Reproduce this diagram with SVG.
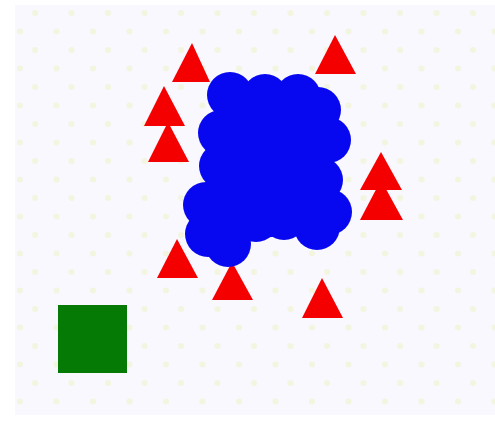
<svg xmlns="http://www.w3.org/2000/svg" width="495" height="425" viewBox="0 0 495 425">
<defs>
<pattern id="dots" patternUnits="userSpaceOnUse" x="20" y="13" width="36.5" height="37">
<circle cx="15" cy="0" r="3" fill="#eef2c4" opacity="0.55"/>
<circle cx="0" cy="18.5" r="3" fill="#eef2c4" opacity="0.55"/>
<circle cx="36.5" cy="18.5" r="3" fill="#eef2c4" opacity="0.55"/>
<circle cx="15" cy="37" r="3" fill="#eef2c4" opacity="0.55"/>
</pattern>
<style>
.tri{fill:#f50000}
.blob circle,.blob polygon{fill:#0808f0}
</style>
</defs>
<rect width="495" height="425" fill="#ffffff"/>
<rect x="15" y="5" width="480" height="410" fill="#f8f8fe"/>
<rect x="15" y="5" width="480" height="410" fill="url(#dots)"/>
<g id="triangles">
<polygon class="tri" points="192,43 210,82 172,82"/>
<polygon class="tri" points="335,35 356,74 315,74"/>
<polygon class="tri" points="164,86 185,126 144,126"/>
<polygon class="tri" points="168,122 189,162 148,162"/>
<polygon class="tri" points="381,152 402,190 360,190"/>
<polygon class="tri" points="381,180 403,220 360,220"/>
<polygon class="tri" points="177,239 198,278 157,278"/>
<polygon class="tri" points="232,262 253,300 212,300"/>
<polygon class="tri" points="322,278 343,318 302,318"/>
</g>
<g id="blob" class="blob">
<polygon points="228,85 320,95 335,140 330,220 300,235 230,240 200,225 205,190 215,130"/>
<circle cx="230" cy="95" r="23"/>
<circle cx="265" cy="97" r="23"/>
<circle cx="298" cy="97" r="23"/>
<circle cx="318" cy="110" r="23"/>
<circle cx="328" cy="140" r="23"/>
<circle cx="221" cy="133" r="23"/>
<circle cx="250" cy="125" r="23"/>
<circle cx="290" cy="125" r="23"/>
<circle cx="222" cy="166" r="23"/>
<circle cx="260" cy="150" r="23"/>
<circle cx="300" cy="150" r="23"/>
<circle cx="260" cy="182" r="23"/>
<circle cx="300" cy="182" r="23"/>
<circle cx="320" cy="180" r="23"/>
<circle cx="240" cy="195" r="23"/>
<circle cx="206" cy="205" r="23"/>
<circle cx="208" cy="234" r="23"/>
<circle cx="228" cy="244" r="23"/>
<circle cx="256" cy="219" r="23"/>
<circle cx="284" cy="217" r="23"/>
<circle cx="317" cy="227" r="23"/>
<circle cx="329" cy="212" r="23"/>
</g>
<rect id="square" x="58" y="305" width="69" height="68" fill="#057a05"/>
</svg>
